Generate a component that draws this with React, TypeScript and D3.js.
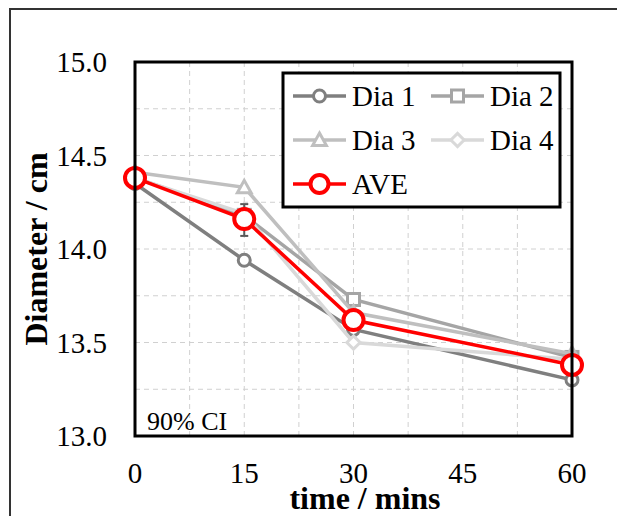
import React from "react";
import * as d3 from "d3";

const times = [0, 15, 30, 60];
const dia1 = [14.35, 13.94, 13.57, 13.3];
const dia2 = [14.38, 14.18, 13.73, 13.42];
const dia3 = [14.41, 14.33, 13.66, 13.44];
const dia4 = [14.38, 14.19, 13.5, 13.41];
const ave = [14.38, 14.16, 13.62, 13.38];
const ciLow = [14.33, 14.07, 13.57, 13.35];
const ciHigh = [14.43, 14.24, 13.67, 13.41];
const xTicks = [0, 15, 30, 45, 60];
const yTicks = [13.0, 13.5, 14.0, 14.5, 15.0];
const xGrid = [7.5, 15, 22.5, 30, 37.5, 45, 52.5];
const yGrid = [13.25, 13.5, 13.75, 14.0, 14.25, 14.5, 14.75];

const FONT = "Liberation Serif";

type Marker = "circle" | "square" | "triangle" | "diamond";

const series: { name: string; values: number[]; color: string; marker: Marker }[] = [
  { name: "Dia 1", values: dia1, color: "#7f7f7f", marker: "circle" },
  { name: "Dia 2", values: dia2, color: "#a5a5a5", marker: "square" },
  { name: "Dia 3", values: dia3, color: "#bfbfbf", marker: "triangle" },
  { name: "Dia 4", values: dia4, color: "#d9d9d9", marker: "diamond" },
];

function MarkerShape({ type, x, y, color, size = 6 }: { type: Marker; x: number; y: number; color: string; size?: number }) {
  const sw = 3;
  if (type === "circle") return <circle cx={x} cy={y} r={size} fill="#fff" stroke={color} strokeWidth={sw} />;
  if (type === "square")
    return <rect x={x - size} y={y - size} width={size * 2} height={size * 2} fill="#fff" stroke={color} strokeWidth={sw} />;
  if (type === "triangle") {
    const s = size * 1.15;
    return (
      <path
        d={`M${x},${y - s} L${x + s},${y + s * 0.8} L${x - s},${y + s * 0.8} Z`}
        fill="#fff"
        stroke={color}
        strokeWidth={sw}
      />
    );
  }
  const s = size * 1.1;
  return <path d={`M${x},${y - s} L${x + s},${y} L${x},${y + s} L${x - s},${y} Z`} fill="#fff" stroke={color} strokeWidth={sw} />;
}

export default function App() {
  const W = 617;
  const H = 516;
  const left = 135, right = 572, top = 62, bottom = 436;
  const x = d3.scaleLinear().domain([0, 60]).range([left, right]);
  const y = d3.scaleLinear().domain([13, 15]).range([bottom, top]);
  const line = d3
    .line<number>()
    .x((_, i) => x(times[i]))
    .y((d) => y(d));

  const legendItems = [
    { name: "Dia 1", color: series[0].color, marker: series[0].marker as Marker, lx: 293, ly: 96 },
    { name: "Dia 2", color: series[1].color, marker: series[1].marker as Marker, lx: 431, ly: 96 },
    { name: "Dia 3", color: series[2].color, marker: series[2].marker as Marker, lx: 293, ly: 140 },
    { name: "Dia 4", color: series[3].color, marker: series[3].marker as Marker, lx: 431, ly: 140 },
  ];

  const ts = { fontFamily: FONT } as React.CSSProperties;

  return (
    <svg width={W} height={H} style={{ position: "absolute", left: 0, top: 0, background: "#fff", fontFamily: FONT }}>
      <rect x={0} y={0} width={W} height={H} fill="#fff" />
      <rect x={10} y={9} width={W + 20} height={H + 20} fill="none" stroke="#333" strokeWidth={2} />
      {xGrid.map((g) => (
        <line key={"xg" + g} x1={x(g)} x2={x(g)} y1={top} y2={bottom} stroke="#d0d0d0" strokeWidth={1} strokeDasharray="5,4" />
      ))}
      {yGrid.map((g) => (
        <line key={"yg" + g} x1={left} x2={right} y1={y(g)} y2={y(g)} stroke="#d0d0d0" strokeWidth={1} strokeDasharray="5,4" />
      ))}
      {series.map((s) => (
        <g key={s.name}>
          <path d={line(s.values) || ""} fill="none" stroke={s.color} strokeWidth={3.5} />
          {s.values.map((v, i) => (
            <MarkerShape key={i} type={s.marker} x={x(times[i])} y={y(v)} color={s.color} />
          ))}
        </g>
      ))}
      {times.map((t, i) => (
        <g key={"eb" + t} stroke="#595959" strokeWidth={2}>
          <line x1={x(t)} x2={x(t)} y1={y(ciLow[i])} y2={y(ciHigh[i])} />
          <line x1={x(t) - 4} x2={x(t) + 4} y1={y(ciLow[i])} y2={y(ciLow[i])} />
          <line x1={x(t) - 4} x2={x(t) + 4} y1={y(ciHigh[i])} y2={y(ciHigh[i])} />
        </g>
      ))}
      <path d={line(ave) || ""} fill="none" stroke="#ff0000" strokeWidth={3.5} />
      {ave.map((v, i) => (
        <circle key={"a" + i} cx={x(times[i])} cy={y(v)} r={10} fill="#fff" stroke="#ff0000" strokeWidth={4} />
      ))}
      <rect x={left} y={top} width={right - left} height={bottom - top} fill="none" stroke="#000" strokeWidth={3} />
      {yTicks.map((t) => (
        <text key={"yt" + t} x={107} y={y(t)} dy="0.35em" textAnchor="end" style={ts} fontSize={29} fill="#000">
          {t.toFixed(1)}
        </text>
      ))}
      {xTicks.map((t) => (
        <text key={"xt" + t} x={x(t)} y={483} textAnchor="middle" style={ts} fontSize={29} fill="#000">
          {t}
        </text>
      ))}
      <text x={365} y={509} textAnchor="middle" style={ts} fontSize={32} fontWeight="bold" fill="#000">
        time / mins
      </text>
      <text
        transform={`translate(47,249) rotate(-90)`}
        textAnchor="middle"
        style={ts}
        fontSize={32}
        fontWeight="bold"
        fill="#000"
      >
        Diameter / cm
      </text>
      <text x={147} y={430} style={ts} fontSize={26} fill="#000">
        90% CI
      </text>
      <rect x={283} y={73} width={277} height={134} fill="#fff" stroke="#000" strokeWidth={3} />
      {legendItems.map((l) => (
        <g key={l.name}>
          <line x1={l.lx} x2={l.lx + 53} y1={l.ly} y2={l.ly} stroke={l.color} strokeWidth={3.5} />
          <MarkerShape type={l.marker} x={l.lx + 26.5} y={l.ly} color={l.color} />
          <text x={l.lx + 59} y={l.ly} dy="0.35em" style={ts} fontSize={29} fill="#000">
            {l.name}
          </text>
        </g>
      ))}
      <g>
        <line x1={293} x2={346} y1={184} y2={184} stroke="#ff0000" strokeWidth={3.5} />
        <circle cx={319.5} cy={184} r={9} fill="#fff" stroke="#ff0000" strokeWidth={4} />
        <text x={352} y={184} dy="0.35em" style={ts} fontSize={29} fill="#000">
          AVE
        </text>
      </g>
    </svg>
  );
}
